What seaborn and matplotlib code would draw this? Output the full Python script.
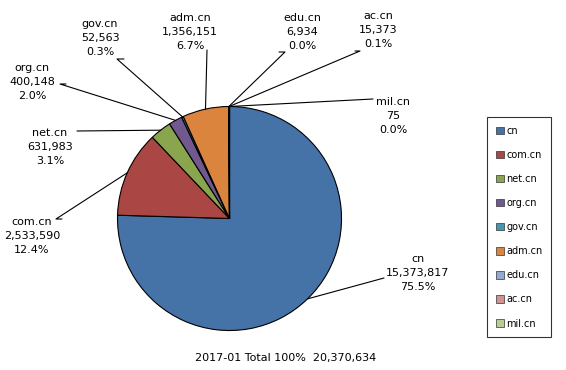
import matplotlib.pyplot as plt
import seaborn as sns
import numpy as np
from matplotlib.patches import Patch

# data
domains = ["cn", "com.cn", "net.cn", "org.cn", "gov.cn", "adm.cn", "edu.cn", "ac.cn", "mil.cn"]
counts = [15373817, 2533590, 631983, 400148, 52563, 1356151, 6934, 15373, 75]
colors = ["#4572A7", "#AA4643", "#89A54E", "#71588F", "#4198AF",
          "#DB843D", "#93A9CF", "#D19392", "#B9CD96"]
period = "2017-01"

W, H = 566, 370


def px(x, y):
    # pixel (top-left origin) -> data coords
    return x, H - y


# label layout (pixels): text centre and leader points on the text side
label_layout = {
    "cn": ((418, 273), [(384, 278)]),
    "com.cn": ((32, 236), [(56, 219), (62, 219)]),
    "net.cn": ((50, 147), [(77, 131)]),
    "org.cn": ((32, 82), [(60, 84), (66, 84)]),
    "gov.cn": ((100, 38), [(117, 59), (124, 59)]),
    "adm.cn": ((190, 32), [(207, 50)]),
    "edu.cn": ((302, 32), [(285, 52), (279, 52)]),
    "ac.cn": ((378, 30), [(360, 51), (355, 51)]),
    "mil.cn": ((393, 116), [(373, 99)]),
}

sns.set_theme(style="white")
plt.rcParams["font.family"] = ["DejaVu Sans"]
plt.rcParams["text.color"] = "black"

fig = plt.figure(figsize=(W / 100, H / 100), dpi=100)
ax = fig.add_axes([0, 0, 1, 1])

total = sum(counts)
explode = [0.02] + [0] * (len(counts) - 1)
wedges, _ = ax.pie(counts, colors=colors, startangle=90, counterclock=False,
                   center=px(229.5, 218.5), radius=112, explode=explode,
                   wedgeprops=dict(edgecolor="black", linewidth=0.8))

for name, val, w in zip(domains, counts, wedges):
    (tx, ty), pts = label_layout[name]
    mid = np.deg2rad((w.theta1 + w.theta2) / 2)
    wx = w.center[0] + w.r * np.cos(mid)
    wy = w.center[1] + w.r * np.sin(mid)
    line = [px(*p) for p in pts[::-1]] + [(wx, wy)]
    xs, ys = zip(*line)
    ax.plot(xs, ys, color="black", lw=0.8)
    ax.text(*px(tx, ty), f"{name}\n{val:,}\n{val / total * 100:.1f}%",
            ha="center", va="center", fontsize=8, linespacing=1.55, color="black")

ax.text(*px(286, 358), f"{period} Total 100%  {total:,}",
        ha="center", va="center", fontsize=8, color="black")

ax.set_xlim(0, W)
ax.set_ylim(0, H)
ax.set_aspect("equal")
ax.axis("off")

handles = [Patch(facecolor=c, edgecolor="#333333", linewidth=0.5) for c in colors]
leg = fig.legend(handles, domains, loc="upper left",
                 bbox_to_anchor=(487 / W, 1 - 117 / H), fontsize=7,
                 handlelength=0.8, handleheight=0.8, handletextpad=0.3,
                 labelspacing=1.45, borderpad=0.9, borderaxespad=0,
                 fancybox=False, frameon=True, labelcolor="black")
leg.get_frame().set_edgecolor("black")
leg.get_frame().set_linewidth(0.8)

fig.savefig("out.png", dpi=100)
